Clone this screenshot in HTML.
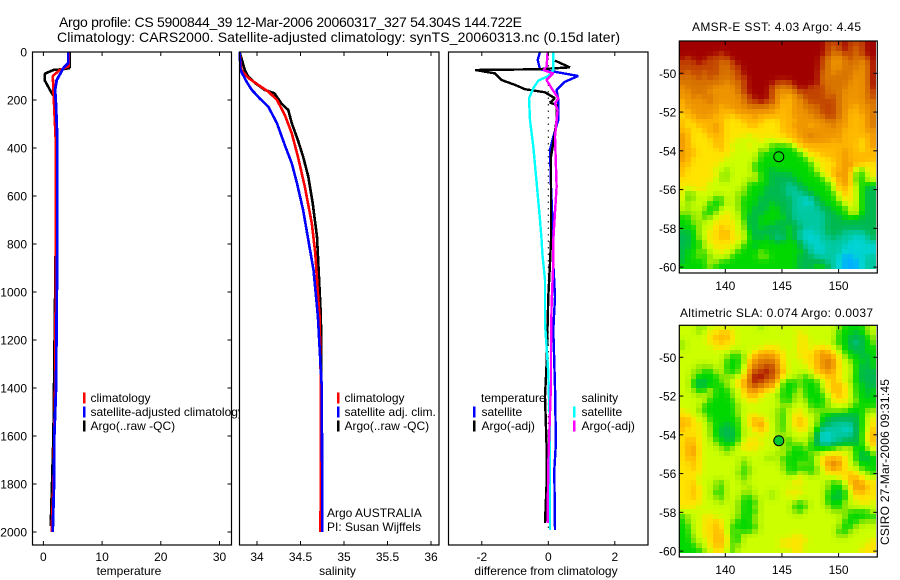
<!DOCTYPE html>
<html lang="en">
<head>
<meta charset="utf-8">
<title>Argo profile CS 5900844_39</title>
<style>
html,body{margin:0;padding:0;background:#fff;width:900px;height:580px;overflow:hidden}
svg{display:block}
text{font-family:"Liberation Sans",Arial,sans-serif;font-size:12px;fill:#000}
</style>
</head>
<body>
<svg id="figure" xmlns="http://www.w3.org/2000/svg" width="900" height="580" viewBox="0 0 900 580">
  <rect x="0" y="0" width="900" height="580" fill="#fff"/>
  <text x="59" y="27" style="font-size:14px" textLength="463" lengthAdjust="spacing">Argo profile: CS 5900844_39 12-Mar-2006 20060317_327 54.304S 144.722E</text>
  <text x="57" y="42" style="font-size:14px" textLength="563" lengthAdjust="spacing">Climatology: CARS2000. Satellite-adjusted climatology: synTS_20060313.nc (0.15d later)</text>
  <g id="panels"></g>
  <text x="692" y="31" textLength="169" lengthAdjust="spacing">AMSR-E SST: 4.03 Argo: 4.45</text>
  <text x="680" y="317" textLength="193" lengthAdjust="spacing">Altimetric SLA: 0.074 Argo: 0.0037</text>
  <text transform="translate(889 545) rotate(-90)" textLength="166" lengthAdjust="spacing">CSIRO 27-Mar-2006 09:31:45</text>
</svg>
<script>
// ---- tick labels ----
const depthTicks = [0,200,400,600,800,1000,1200,1400,1600,1800,2000];
const tempTicks = [0,10,20,30];
const salTicks = [34,34.5,35,35.5,36];
const salTickLabels = ['34','34.5','35','35.5','36'];
const diffTicks = [-2,0,2];
const lonTicks = [140,145,150];
const latTicks = [50,52,54,56,58,60];

// ---- temperature panel ----
const tempClimDepth = [0,45,60,75,100,158,241,367,783,1400,1800,2000];
const tempClimValue = [4.3,4.3,4.3,2.8,1.6,1.7,1.86,2.1,2.15,2.0,1.7,1.4];
const tempSatDepth = [0,45,67,117,158,220,367,783,1400,1600,1800,2000];
const tempSatValue = [4.25,4.25,3.4,2.26,2.0,2.15,2.37,2.37,2.15,1.86,1.8,1.58];
const tempArgoDepth = [0,67,72,75,90,117,158,186,255,400,800,1400,1600,1800,1975];
const tempArgoValue = [4.45,4.45,3.2,1.7,0.27,0.2,1.1,1.8,2.1,2.2,2.1,1.8,1.7,1.47,1.24];

// ---- salinity panel ----
const salClimDepth = [0,75,108,137,165,200,262,339,436,561,714,839,1033,1103,1400,2000];
const salClimValue = [33.8,33.82,33.9,34.015,34.13,34.23,34.32,34.4,34.47,34.55,34.63,34.67,34.705,34.72,34.735,34.73];
const salSatDepth = [0,75,124,158,193,228,297,388,464,547,658,783,908,1061,1103,1400,2000];
const salSatValue = [33.8,33.81,33.88,33.94,34.03,34.13,34.23,34.32,34.4,34.46,34.53,34.59,34.65,34.69,34.7,34.745,34.75];
const salArgoDepth = [0,75,103,130,158,172,214,242,297,367,436,519,630,770,922,1103,1400,1975];
const salArgoValue = [33.8,33.86,33.9,33.98,34.09,34.2,34.28,34.36,34.4,34.47,34.53,34.59,34.64,34.69,34.71,34.735,34.74,34.73];

// ---- difference panel ----
const diffTempSatDepth = [0,33,72,85,100,124,158,200,283,353,408,561,783,880,1020,1158,1394,1630,1742,1992];
const diffTempSatValue = [-0.25,-0.32,-0.25,0.3,0.9,0.5,0.25,0.3,0.3,0.15,0.05,0.08,0.15,0.15,0.2,0.15,0.2,0.23,0.18,0.2];
const diffTempArgoDepth = [36,64,72,75,89,117,137,155,168,193,211,221,283,353,436,783,880,1020,1298,1436,1645,1797,1963];
const diffTempArgoValue = [0.2,0.65,-0.35,-2.2,-1.6,-1.4,-1.0,-0.7,-0.1,0.2,0.05,0.25,0.25,0.18,0.08,0.08,0.05,0,-0.05,-0.1,-0.05,-0.05,-0.1];
const diffSalSatDepth = [0,75,100,119,151,193,283,394,547,700,783,838,950,1131,1228,1339,1575,1992];
const diffSalSatValue = [0.15,0.15,0,-0.3,-0.45,-0.58,-0.55,-0.45,-0.35,-0.25,-0.2,-0.18,-0.1,-0.1,-0.05,0,0.05,0.05];
const diffSalArgoDepth = [0,61,75,89,117,151,193,214,242,353,561,783,880,1047,1228,1380,1714,1963];
const diffSalArgoValue = [-0.02,-0.05,-0.15,0.15,-0.05,0.1,0.3,0.2,0.28,0.2,0.25,0.15,0.15,0.1,0.08,0.08,0,-0.02];

// ---- map marker ----
const argoLon = [144.722];
const argoLat = [54.304];

// ---- heatmap colour levels ----
const levelColors = [[160,0,0],[194,68,0],[216,116,0],[238,148,0],[255,184,0],[255,228,0],[204,255,0],[142,232,0],[0,216,0],[0,184,80],[0,200,160],[0,212,212],[0,176,255]];

// ---- AMSR-E SST map, colour level per cell (north to south, west to east) ----
const sstGrid = [
[0,0,0,0,0,0,0,0,0,0,0,0,0,0,0,0,0,0,0,0,0,0,0,0,0,0,1,1,1,0,1,1,1,0,0],
[0,0,0,0,0,0,0,0,0,0,0,0,0,0,0,0,0,0,0,0,0,0,0,0,0,0,1,2,1,0,1,2,1,0,0],
[0,0,0,0,0,0,0,1,0,0,0,0,0,0,0,0,0,0,0,0,0,0,0,0,0,0,1,2,2,1,1,2,1,0,0],
[0,1,0,0,0,1,1,1,1,0,0,0,0,0,0,0,0,0,0,0,0,0,0,0,0,1,2,3,3,2,1,2,2,1,0],
[1,1,1,0,1,1,1,2,2,1,0,0,0,0,0,0,0,0,0,0,0,0,0,0,0,1,2,3,3,2,2,2,3,2,0],
[1,1,1,1,1,1,1,2,2,1,1,0,0,0,0,0,0,0,0,0,0,0,0,0,0,1,2,3,3,2,2,2,3,2,0],
[1,2,1,1,2,1,1,2,2,2,1,0,0,0,0,0,0,0,0,0,0,0,0,0,0,2,2,3,2,2,2,3,3,2,0],
[2,2,2,1,2,1,2,2,2,2,1,1,0,0,0,0,0,0,0,0,0,0,0,0,0,2,2,2,2,2,2,3,3,2,0],
[2,2,2,2,2,2,2,2,3,2,2,1,0,0,0,0,0,1,1,1,0,0,0,0,0,2,2,2,2,2,3,3,3,2,0],
[3,2,2,2,2,2,3,3,3,3,2,1,0,0,0,0,1,2,2,2,1,0,0,1,1,1,2,2,2,2,3,3,3,2,0],
[3,3,2,2,2,3,3,3,3,3,2,1,0,0,0,0,1,3,3,3,2,1,1,1,1,1,2,2,2,3,3,3,3,2,1],
[3,3,2,3,2,2,3,3,3,3,3,2,1,0,0,0,1,3,3,4,3,2,1,1,1,1,2,1,2,3,3,3,3,2,1],
[4,3,3,3,3,2,3,3,3,3,3,2,1,1,0,1,1,3,4,4,3,3,2,1,1,1,1,1,2,3,3,3,3,2,2],
[4,3,3,3,3,3,3,4,3,3,3,3,2,2,2,2,3,3,4,4,3,3,2,2,2,1,1,1,2,3,3,4,3,3,2],
[4,4,3,3,3,3,3,4,4,4,3,3,3,3,3,3,3,4,4,4,3,3,3,2,2,1,1,1,2,3,4,4,3,3,2],
[5,4,4,3,3,3,4,4,4,5,4,4,4,3,4,4,4,4,4,4,3,3,3,3,2,2,1,1,2,3,4,4,4,3,2],
[4,5,4,4,4,4,4,4,5,5,5,4,4,4,4,5,5,5,4,4,4,3,3,3,3,3,2,2,3,3,4,4,4,3,2],
[4,5,5,4,4,4,3,4,5,5,5,5,4,4,5,5,5,5,4,4,3,3,3,4,3,3,3,2,3,3,4,4,4,3,2],
[4,4,5,5,4,4,3,4,5,5,5,5,5,5,5,5,5,5,4,4,4,3,3,3,3,3,3,3,3,4,4,4,4,3,3],
[3,4,5,5,5,4,4,4,5,5,5,5,6,5,5,5,5,5,5,4,4,3,3,2,3,3,3,3,3,4,4,4,4,4,3],
[3,4,5,5,5,5,4,4,5,5,6,6,6,6,5,6,6,5,5,5,4,4,3,3,3,3,3,4,3,4,4,4,5,4,3],
[3,4,5,5,5,5,4,4,5,6,6,6,5,6,6,6,8,8,8,8,6,4,4,4,4,4,4,4,4,4,4,4,5,4,3],
[3,4,4,5,5,5,5,4,5,5,6,6,6,5,8,6,8,8,8,8,8,6,5,4,4,4,4,4,4,3,4,4,5,4,4],
[3,4,4,5,5,5,5,5,5,6,6,6,6,6,8,8,8,8,8,8,8,8,6,5,5,4,4,4,4,3,4,4,4,4,4],
[3,4,5,5,5,5,5,5,6,6,6,6,6,6,8,8,8,8,8,8,8,8,8,6,5,5,5,4,4,3,4,4,4,4,4],
[4,4,5,5,5,5,5,6,6,6,6,6,6,8,8,8,8,8,8,8,8,8,8,8,6,5,5,5,4,3,3,4,4,5,5],
[4,5,5,5,5,5,6,6,7,6,6,6,6,8,8,8,9,8,8,8,8,8,8,8,6,5,5,4,4,3,4,6,8,5,5],
[4,5,5,5,5,5,5,7,7,6,6,6,6,6,8,8,9,9,9,9,8,8,8,8,8,6,5,4,3,3,4,8,8,6,5],
[5,5,5,5,5,5,6,7,7,6,6,6,7,6,8,8,9,9,9,9,9,8,8,8,8,8,6,5,4,3,4,8,8,6,6],
[5,5,5,5,5,6,6,6,6,6,6,6,8,8,8,8,9,9,9,10,9,9,8,8,8,8,8,6,4,3,4,7,8,8,8],
[5,6,5,5,5,6,6,6,6,6,6,7,8,8,8,9,9,9,9,10,10,9,9,8,8,8,8,6,4,4,5,6,8,9,9],
[5,8,7,6,6,6,6,6,6,6,7,7,8,8,8,9,9,9,9,10,10,10,9,9,8,8,8,8,6,4,5,6,8,9,9],
[5,8,7,6,6,6,8,8,6,6,7,8,8,8,9,9,9,9,9,9,10,10,11,10,9,8,8,8,6,5,5,6,8,9,9],
[6,7,6,6,6,8,8,8,6,6,7,8,8,8,9,9,8,9,9,9,10,10,11,11,9,9,8,8,8,6,5,6,8,9,9],
[6,7,6,6,7,8,8,6,6,6,7,8,8,9,9,9,8,8,9,9,10,10,10,10,10,9,9,8,8,8,6,6,8,9,9],
[7,7,7,6,8,8,7,6,5,6,6,8,8,9,9,8,8,8,9,9,10,10,10,10,10,10,9,9,8,8,6,6,8,9,9],
[8,8,7,6,8,7,6,5,5,6,6,8,9,9,8,8,8,8,8,9,10,10,10,10,10,10,9,9,9,8,8,8,9,9,9],
[8,8,7,7,6,6,5,5,5,5,6,7,9,9,8,8,8,9,9,9,9,10,10,10,10,10,9,9,9,9,9,9,9,9,9],
[8,8,8,7,6,6,5,4,5,5,6,7,9,9,8,9,9,9,9,8,9,9,10,10,10,10,9,9,9,9,9,9,9,9,9],
[9,9,8,7,6,5,5,4,4,5,6,6,8,9,9,9,9,9,9,8,9,10,11,11,10,10,9,9,9,10,10,10,10,9,9],
[9,9,8,7,6,5,5,4,4,5,5,6,8,9,9,8,9,10,10,8,9,10,11,11,11,10,10,9,10,10,10,11,11,10,9],
[9,9,8,8,7,5,5,5,5,5,6,7,8,8,8,8,8,9,8,8,8,9,10,11,11,10,10,10,10,10,11,11,11,10,10],
[9,9,8,8,6,6,5,5,5,6,6,8,8,9,8,8,8,8,8,8,8,9,10,10,11,11,10,10,10,11,11,11,11,11,11],
[9,8,8,7,8,6,6,5,6,6,8,8,8,8,7,8,8,8,8,8,8,8,9,10,11,11,10,10,10,11,11,11,11,11,11],
[9,8,8,7,8,7,6,6,6,8,8,8,8,8,7,7,8,8,8,8,8,9,9,9,10,10,10,10,11,12,12,11,11,10,10],
[9,8,8,8,8,6,7,8,8,8,8,8,8,8,8,8,8,8,8,8,8,9,9,9,9,9,10,10,11,12,12,12,11,10,10],
[8,8,8,8,8,7,8,8,8,8,8,8,8,8,8,8,8,8,8,8,8,9,9,9,8,8,9,10,11,12,12,12,11,10,10]
];

// ---- Altimetric SLA map, colour level per cell (north to south, west to east) ----
const slaGrid = [
[6,6,6,7,7,6,6,6,6,6,6,6,6,6,7,6,6,6,6,6,6,6,6,6,6,6,6,6,7,8,8,8,8,7,6],
[6,6,6,7,6,5,5,4,4,5,6,6,6,6,6,6,6,6,6,6,6,5,6,6,6,6,6,6,8,8,8,9,8,7,6],
[6,6,6,6,6,5,4,4,4,5,6,6,6,6,6,6,6,6,6,6,6,5,5,6,6,6,6,6,8,8,9,9,9,8,7],
[7,6,6,6,6,5,5,4,5,5,6,6,6,6,6,6,6,6,6,6,6,5,5,6,6,6,6,7,8,8,9,10,9,8,7],
[7,6,6,6,6,6,5,5,5,6,6,6,6,6,6,5,5,5,6,6,6,5,5,6,5,5,5,6,7,8,9,9,9,8,8],
[6,6,6,6,6,6,6,6,6,7,7,6,6,5,4,4,4,5,5,6,6,5,5,5,4,3,4,5,6,8,8,9,9,8,8],
[6,6,6,6,6,6,6,6,7,8,8,7,5,4,3,3,3,4,5,6,6,5,5,5,4,3,3,4,5,7,8,8,9,9,8],
[6,6,6,6,6,6,6,6,8,8,8,7,4,3,2,2,2,3,5,6,6,6,5,5,4,3,2,3,5,6,7,8,8,9,8],
[6,6,6,7,7,7,6,6,8,8,8,6,4,2,2,1,1,3,5,6,6,6,6,5,4,3,2,3,5,6,6,8,9,9,8],
[6,6,7,7,8,8,7,6,8,8,8,6,3,1,1,0,1,2,4,6,6,6,6,6,4,4,3,4,5,6,6,8,9,9,9],
[6,6,7,8,8,8,8,7,7,7,6,5,2,0,0,1,1,3,5,6,6,7,8,7,5,5,4,4,5,6,6,8,9,9,9],
[6,6,8,9,9,8,8,7,7,6,5,4,2,0,1,2,2,4,7,8,8,7,8,8,8,6,5,4,5,6,7,8,9,9,9],
[6,6,8,9,9,8,8,8,7,6,5,4,2,1,2,3,3,5,8,8,8,7,8,8,8,6,5,4,4,5,6,8,8,9,9],
[6,6,7,8,8,6,8,8,8,7,6,5,3,3,4,5,5,6,8,8,8,6,8,8,8,7,5,4,4,5,6,8,8,9,8],
[6,6,6,7,6,7,8,8,8,7,6,5,4,4,5,6,6,7,8,8,7,6,8,8,8,8,6,5,4,5,6,8,8,9,8],
[6,6,6,6,6,8,8,8,8,8,6,6,5,5,6,6,6,6,8,8,7,6,7,8,8,8,7,5,5,5,6,7,8,8,8],
[6,6,6,6,8,8,8,8,8,8,7,6,6,6,6,6,6,6,7,7,6,6,6,8,8,8,7,6,6,6,7,8,8,8,8],
[5,6,6,7,8,8,8,8,8,8,7,6,6,6,6,6,6,7,8,6,6,5,6,7,7,7,7,7,7,7,8,8,8,7,7],
[5,5,6,6,7,8,8,8,8,8,7,6,5,5,6,6,6,7,8,6,5,5,6,6,7,8,8,9,9,9,9,9,8,6,6],
[4,4,5,6,6,8,8,8,8,8,8,6,5,4,4,6,6,7,8,6,5,4,5,6,7,8,9,9,9,9,9,9,8,6,5],
[4,4,5,5,6,7,8,8,9,8,8,6,5,4,3,5,6,7,8,6,5,4,5,6,7,9,9,10,10,10,10,9,8,6,5],
[4,5,5,5,6,7,8,9,9,9,8,6,6,5,4,5,6,7,8,6,6,5,5,6,8,10,10,10,10,11,11,9,8,6,4],
[5,5,5,5,6,7,8,9,9,9,8,6,6,6,5,6,6,7,7,6,6,6,6,7,9,11,11,10,10,10,10,9,8,5,4],
[5,4,4,5,6,6,8,8,9,9,8,6,5,5,6,6,6,6,7,8,6,6,6,7,9,11,11,10,10,9,9,9,8,5,4],
[5,4,4,5,6,6,7,8,8,8,7,5,5,5,5,6,6,6,7,8,7,8,6,8,9,10,10,9,9,9,9,9,8,6,4],
[5,4,3,5,6,6,6,7,8,7,6,5,5,5,6,6,6,6,7,7,8,8,7,8,8,8,8,8,7,6,6,8,8,7,5],
[5,4,3,5,6,6,6,6,7,6,6,6,6,6,6,6,6,7,6,8,8,8,8,7,7,6,5,5,5,6,6,8,9,9,7],
[5,4,4,5,6,6,6,6,6,6,6,7,6,6,6,7,7,6,8,8,8,8,8,8,6,5,4,4,4,5,6,8,9,9,8],
[5,5,4,5,6,6,6,6,6,6,6,8,6,6,6,6,6,6,7,8,8,7,7,8,6,5,3,2,3,5,6,7,8,8,8],
[5,5,4,5,6,6,6,6,6,6,6,8,7,6,6,6,6,6,7,8,8,8,8,8,7,6,4,3,4,5,6,6,8,8,8],
[5,5,5,5,6,6,6,6,6,6,7,8,7,6,6,6,6,6,6,8,8,6,7,8,7,6,5,5,5,5,4,5,6,7,8],
[5,5,5,6,6,6,6,6,6,6,6,8,6,6,6,6,6,6,6,6,6,5,6,6,6,6,6,6,5,5,4,4,5,6,6],
[5,5,4,6,6,6,7,8,6,6,6,7,6,6,6,6,6,6,6,6,5,5,6,6,6,6,7,8,8,6,4,3,4,5,5],
[5,5,4,5,6,6,7,8,6,6,6,6,7,6,6,6,6,6,6,6,6,6,6,6,6,6,7,8,8,7,5,3,3,4,5],
[5,5,4,5,6,6,8,8,6,6,6,7,7,6,6,6,7,6,6,5,5,5,6,6,6,6,8,8,9,8,6,4,4,5,5],
[5,5,4,5,6,6,7,8,6,6,6,8,8,7,6,6,7,6,6,6,5,6,6,6,6,6,8,9,9,8,6,5,5,5,5],
[5,5,5,5,6,6,6,7,6,6,7,8,8,8,6,6,6,6,6,6,7,8,7,6,6,6,8,8,8,7,6,6,5,5,6],
[5,5,5,6,6,6,6,6,6,6,7,8,8,7,6,6,6,6,6,6,8,8,8,6,6,6,7,8,8,7,6,6,6,6,6],
[6,6,6,6,6,6,6,6,6,6,7,8,8,8,6,6,6,6,6,6,7,8,6,6,6,6,6,7,7,7,8,8,8,8,6],
[8,7,6,6,5,5,6,6,6,6,7,8,8,7,6,6,6,6,6,6,6,6,6,6,6,6,6,6,6,7,8,8,8,8,8],
[8,7,6,6,5,5,4,5,6,7,8,8,8,7,6,6,6,6,6,6,6,6,6,6,6,6,6,6,6,8,8,8,7,7,7],
[8,8,6,6,5,5,4,5,6,8,8,8,8,8,6,6,6,6,6,6,6,6,6,6,6,6,6,6,7,8,8,7,6,6,6],
[8,8,6,6,5,5,4,4,6,8,7,8,8,7,6,6,6,6,6,6,6,6,6,6,6,6,6,6,8,8,7,6,6,6,6],
[8,8,7,6,5,5,4,4,5,8,8,6,6,6,6,6,6,6,6,6,5,5,6,6,6,6,6,6,7,7,6,6,6,6,6],
[8,8,7,6,6,5,4,4,5,8,8,6,6,6,6,6,6,6,5,5,5,5,5,6,6,6,6,6,6,6,6,6,6,6,5],
[8,8,8,7,6,5,4,4,5,8,7,6,6,6,6,6,6,6,5,5,5,5,6,6,6,6,6,6,6,6,6,6,6,5,5],
[8,8,8,8,7,6,5,5,6,8,6,6,6,6,6,6,6,6,6,6,5,5,6,6,6,6,6,6,6,6,6,6,5,5,5]
];

const SVG_NS = 'http://www.w3.org/2000/svg';
const root = document.getElementById('panels');

function make(tag, parent) {
  const el = document.createElementNS(SVG_NS, tag);
  (parent || root).appendChild(el);
  return el;
}
function linear(d0, d1, r0, r1) {
  return function (v) { return r0 + (v - d0) * (r1 - r0) / (d1 - d0); };
}

const yDepth = linear(0, 2000, 52, 532);

// Continuous colour scale through the levels
function colorScale(level) {
  const top = levelColors.length - 1;
  const v = Math.max(0, Math.min(top, level));
  const i = Math.min(top - 1, Math.floor(v));
  const f = v - i;
  const a = levelColors[i];
  const b = levelColors[i + 1];
  return 'rgb(' + [0, 1, 2].map(function (k) {
    return Math.round(a[k] + (b[k] - a[k]) * f);
  }).join(',') + ')';
}
// Light neighbour blend, matching the soft gridded look of the maps
function blendedLevel(grid, r, c) {
  let sum = 0;
  let weight = 0;
  for (let dr = -1; dr <= 1; dr++) {
    for (let dc = -1; dc <= 1; dc++) {
      const row = grid[r + dr];
      if (!row || row[c + dc] === undefined) continue;
      const w = (dr === 0 && dc === 0) ? 4 : (dr === 0 || dc === 0) ? 1 : 0.5;
      sum += row[c + dc] * w;
      weight += w;
    }
  }
  return sum / weight;
}

function drawFrame(name, box) {
  const bg = make('rect');
  
  
  bg.setAttribute('x', box.l);
  bg.setAttribute('y', box.t);
  bg.setAttribute('width', box.r - box.l);
  bg.setAttribute('height', box.b - box.t);
  bg.setAttribute('fill', '#fff');
}
function drawBorder(name, box) {
  const fr = make('rect');
  
  
  fr.setAttribute('x', box.l);
  fr.setAttribute('y', box.t);
  fr.setAttribute('width', box.r - box.l);
  fr.setAttribute('height', box.b - box.t);
  fr.setAttribute('fill', 'none');
  fr.setAttribute('stroke', '#000');
  fr.setAttribute('stroke-width', '1.2');
}
function tickLine(name, x1, y1, x2, y2) {
  const ln = make('line');
  
  
  ln.setAttribute('x1', x1);
  ln.setAttribute('y1', y1);
  ln.setAttribute('x2', x2);
  ln.setAttribute('y2', y2);
  ln.setAttribute('stroke', '#000');
  ln.setAttribute('stroke-width', '1');
}
function label(name, str, x, y, anchor) {
  const t = make('text');
  
  
  t.setAttribute('x', x);
  t.setAttribute('y', y);
  t.setAttribute('text-anchor', anchor || 'start');
  t.textContent = str;
}
function xTicks(name, box, ticks, texts, scale, labelY) {
  ticks.forEach(function (v, i) {
    const x = scale(v);
    tickLine(name + '-tick-top-' + texts[i], x, box.t, x, box.t + 4);
    tickLine(name + '-tick-bottom-' + texts[i], x, box.b, x, box.b - 4);
    label(name + '-tick-label-' + texts[i], texts[i], x, labelY, 'middle');
  });
}
function series(name, color, depths, values, scale, width) {
  const pl = make('polyline');
  
  
  pl.setAttribute('points', depths.map(function (d, i) {
    return scale(values[i]).toFixed(1) + ',' + yDepth(d).toFixed(1);
  }).join(' '));
  pl.setAttribute('fill', 'none');
  pl.setAttribute('stroke', color);
  pl.setAttribute('stroke-width', width);
  pl.setAttribute('stroke-linejoin', 'bevel');
  pl.setAttribute('shape-rendering', 'crispEdges');
}
function legendBar(name, color, x, y) {
  const b = make('rect');
  
  
  b.setAttribute('x', x);
  b.setAttribute('y', y);
  b.setAttribute('width', 2.5);
  b.setAttribute('height', 11);
  b.setAttribute('fill', color);
}

// ---- temperature panel ----
const box1 = {l: 32.5, r: 231.5, t: 52, b: 545};
const xTemp = linear(0, 30, 43.4, 219.5);
drawFrame('temperature-panel', box1);
series('temperature-argo-line', '#000', tempArgoDepth, tempArgoValue, xTemp, 2.6);
series('temperature-climatology-line', '#f00', tempClimDepth, tempClimValue, xTemp, 2.6);
series('temperature-satellite-line', '#00f', tempSatDepth, tempSatValue, xTemp, 2.8);
legendBar('temperature-legend-climatology-swatch', '#f00', 83, 392.5);
legendBar('temperature-legend-satellite-swatch', '#00f', 83, 406.5);
legendBar('temperature-legend-argo-swatch', '#000', 83, 420.5);
label('temperature-legend-climatology', 'climatology', 90.5, 402);
label('temperature-legend-satellite', 'satellite-adjusted climatology', 90.5, 416);
label('temperature-legend-argo', 'Argo(..raw -QC)', 90.5, 430);
drawBorder('temperature-panel', box1);
depthTicks.forEach(function (d) {
  tickLine('depth-tick-left-' + d, box1.l, yDepth(d), box1.l + 4, yDepth(d));
  tickLine('depth-tick-right-' + d, box1.r, yDepth(d), box1.r - 4, yDepth(d));
  label('depth-tick-label-' + d, String(d), 27, yDepth(d) + 4.5, 'end');
});
xTicks('temperature', box1, tempTicks, tempTicks.map(String), xTemp, 561);
label('temperature-axis-title', 'temperature', 129, 575, 'middle');

// ---- salinity panel ----
const box2 = {l: 239.5, r: 439, t: 52, b: 545};
const xSal = linear(34, 36, 257, 431);
drawFrame('salinity-panel', box2);
series('salinity-argo-line', '#000', salArgoDepth, salArgoValue, xSal, 2.6);
series('salinity-climatology-line', '#f00', salClimDepth, salClimValue, xSal, 2.6);
series('salinity-satellite-line', '#00f', salSatDepth, salSatValue, xSal, 2.6);
legendBar('salinity-legend-climatology-swatch', '#f00', 337, 392.5);
legendBar('salinity-legend-satellite-swatch', '#00f', 337, 406.5);
legendBar('salinity-legend-argo-swatch', '#000', 337, 420.5);
label('salinity-legend-climatology', 'climatology', 344.5, 402);
label('salinity-legend-satellite', 'satellite adj. clim.', 344.5, 416);
label('salinity-legend-argo', 'Argo(..raw -QC)', 344.5, 430);
label('float-country-label', 'Argo AUSTRALIA', 327, 517);
label('float-pi-label', 'PI: Susan Wijffels', 327, 531);
drawBorder('salinity-panel', box2);
xTicks('salinity', box2, salTicks, salTickLabels, xSal, 561);
label('salinity-axis-title', 'salinity', 337.5, 575, 'middle');

// ---- difference panel ----
const box3 = {l: 448.5, r: 648, t: 52, b: 545};
const xDiff = linear(-2, 2, 481.8, 614.8);
drawFrame('difference-panel', box3);
const zero = make('line');


zero.setAttribute('x1', xDiff(0));
zero.setAttribute('y1', yDepth(0));
zero.setAttribute('x2', xDiff(0));
zero.setAttribute('y2', yDepth(2000));
zero.setAttribute('stroke', '#000');
zero.setAttribute('stroke-width', '1');
zero.setAttribute('stroke-dasharray', '1.5 5');
label('difference-legend-temperature-heading', 'temperature', 481, 402);
label('difference-legend-salinity-heading', 'salinity', 581.5, 402);
label('difference-legend-temperature-satellite', 'satellite', 481.5, 416);
label('difference-legend-temperature-argo', 'Argo(-adj)', 481.5, 430);
label('difference-legend-salinity-satellite', 'satellite', 581.5, 416);
label('difference-legend-salinity-argo', 'Argo(-adj)', 581.5, 430);
legendBar('difference-legend-temperature-satellite-swatch', '#00f', 473, 406.5);
legendBar('difference-legend-temperature-argo-swatch', '#000', 473, 420.5);
legendBar('difference-legend-salinity-satellite-swatch', '#0ff', 573, 406.5);
legendBar('difference-legend-salinity-argo-swatch', '#f0f', 573, 420.5);
series('difference-temperature-satellite-line', '#00f', diffTempSatDepth, diffTempSatValue, xDiff, 2.4);
series('difference-temperature-argo-line', '#000', diffTempArgoDepth, diffTempArgoValue, xDiff, 2.4);
series('difference-salinity-satellite-line', '#0ff', diffSalSatDepth, diffSalSatValue, xDiff, 2.4);
series('difference-salinity-argo-line', '#f0f', diffSalArgoDepth, diffSalArgoValue, xDiff, 2.4);
drawBorder('difference-panel', box3);
xTicks('difference', box3, diffTicks, diffTicks.map(String), xDiff, 561);
label('difference-axis-title', 'difference from climatology', 546, 575, 'middle');

// ---- maps ----
function drawMap(name, grid, box, lat50Y, markerFill) {
  const xLon = linear(140, 150, 725.3, 838.6);
  const yLat = linear(50, 60, lat50Y, lat50Y + 193.8);
  const lon0 = 135.94;
  const lat0 = 50 + (box.t - lat50Y) / 19.38;
  grid.forEach(function (row, r) {
    row.forEach(function (level, c) {
      const x0 = Math.round(xLon(lon0 + c * 0.4955));
      const x1 = Math.round(xLon(lon0 + (c + 1) * 0.4955));
      const y0 = Math.round(yLat(lat0 + r * 0.25));
      const y1 = Math.round(yLat(lat0 + (r + 1) * 0.25));
      const cell = make('rect');
      
      
      cell.setAttribute('x', x0);
      cell.setAttribute('y', y0);
      cell.setAttribute('width', x1 - x0);
      cell.setAttribute('height', y1 - y0);
      cell.setAttribute('fill', colorScale(blendedLevel(grid, r, c)));
      cell.setAttribute('shape-rendering', 'crispEdges');
    });
  });
  drawBorder(name, box);
  lonTicks.forEach(function (v) {
    tickLine(name + '-lon-tick-top-' + v, xLon(v), box.t, xLon(v), box.t + 4);
    tickLine(name + '-lon-tick-bottom-' + v, xLon(v), box.b, xLon(v), box.b - 4);
    label(name + '-lon-label-' + v, String(v), xLon(v), box.b + 17, 'middle');
  });
  latTicks.forEach(function (v) {
    tickLine(name + '-lat-tick-left-' + v, box.l, yLat(v), box.l + 4, yLat(v));
    tickLine(name + '-lat-tick-right-' + v, box.r, yLat(v), box.r - 4, yLat(v));
    label(name + '-lat-label-' + v, String(-v), box.l - 3, yLat(v) + 4.5, 'end');
  });
  const mk = make('circle');
  
  
  mk.setAttribute('cx', xLon(argoLon[0]));
  mk.setAttribute('cy', yLat(argoLat[0]));
  mk.setAttribute('r', 5);
  mk.setAttribute('fill', markerFill);
  mk.setAttribute('stroke', '#000');
  mk.setAttribute('stroke-width', '1');
}
drawMap('sst-map', sstGrid, {l: 679.3, r: 877.3, t: 41, b: 273}, 73.3, 'none');
drawMap('sla-map', slaGrid, {l: 679.3, r: 877.3, t: 325.3, b: 557}, 357.3, '#00c830');
</script>
</body>
</html>
